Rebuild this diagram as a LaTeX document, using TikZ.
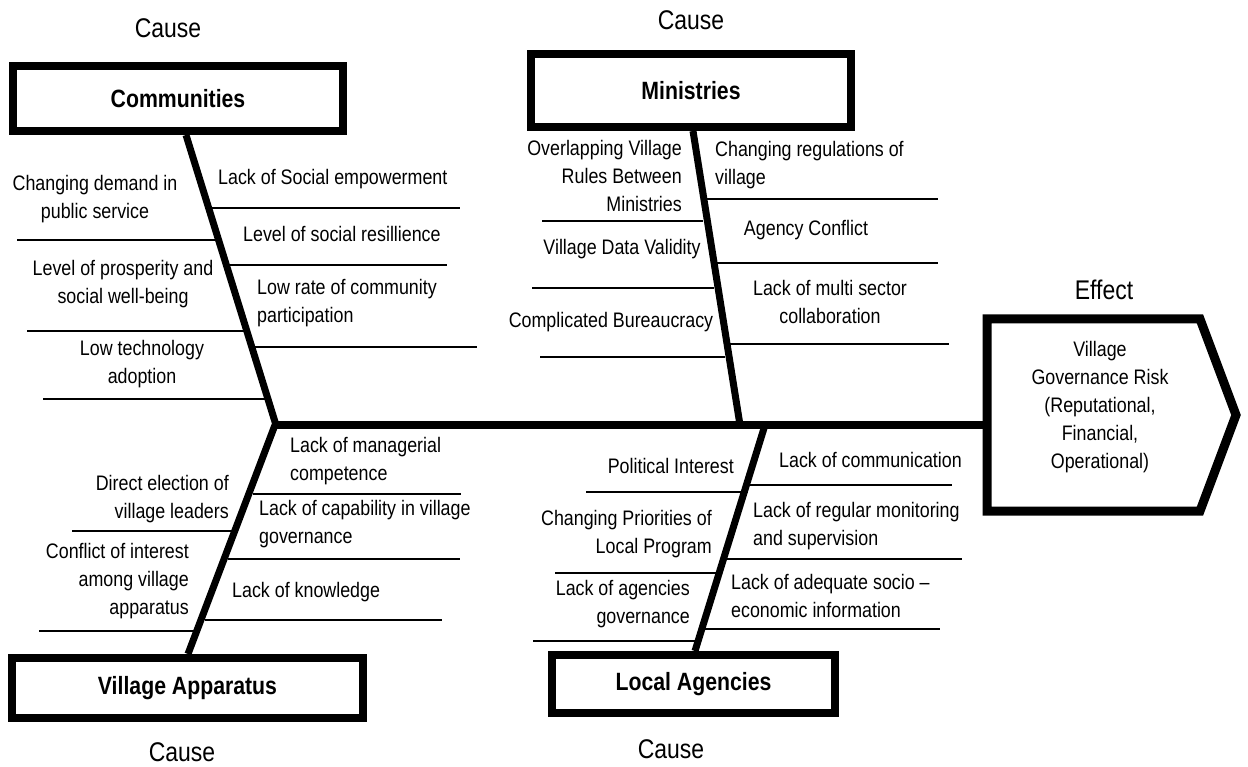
\documentclass[tikz,border=0pt]{standalone}
\usepackage{fontspec}
\setmainfont{Liberation Sans}[FakeStretch=0.85]
\usetikzlibrary{calc}
\begin{document}
\begin{tikzpicture}[x=1pt,y=-1pt,
  lbl/.style={font=\fontsize{21}{28}\selectfont, inner sep=0pt},
  cause/.style={font=\fontsize{27}{32}\selectfont, inner sep=0pt},
  catbox/.style={draw, line width=8pt, rectangle, inner sep=0pt, font=\bfseries\fontsize{25}{30}\selectfont},
  spine/.style={line width=7pt},
  rib/.style={line width=2pt}]
\useasboundingbox (0,0) rectangle (1248,767);

% category boxes
\node[catbox, minimum width=330pt, minimum height=65pt] (comm) at (178,98.5) {Communities};
\node[catbox, minimum width=320pt, minimum height=73pt] (min) at (691,90.5) {Ministries};
\node[catbox, minimum width=351pt, minimum height=60pt] (vapp) at (187.5,688) {Village Apparatus};
\node[catbox, minimum width=283pt, minimum height=58pt] (lag) at (693.5,684) {Local Agencies};

% cause labels
\node[cause] (c1) at (168,28) {Cause};
\node[cause] (c2) at (691,20) {Cause};
\node[cause] (c3) at (182,752) {Cause};
\node[cause] (c4) at (671,749) {Cause};

% effect box
\coordinate (e1) at (987,319);
\coordinate (e2) at (1200,319);
\coordinate (e3) at (1236,415);
\coordinate (e4) at (1200,511);
\coordinate (e5) at (987,511);
\draw[line width=9pt, line join=miter] (e1) -- (e2) -- (e3) -- (e4) -- (e5) -- cycle;
\node[lbl, align=center] (eff) at (1100,407) {Village\\Governance Risk\\(Reputational,\\Financial,\\Operational)};
\node[cause] (efflbl) at (1104,290) {Effect};

% spines
\coordinate (jc) at (276,425);
\coordinate (jm) at (740,425);
\coordinate (jv) at (275,425);
\coordinate (jl) at (765,425);
\coordinate (effin) at (983,425);
\draw[line width=8pt] (272,425) -- (effin);
\draw[spine] ($(comm.south)+(8,0)$) -- (jc);
\draw[spine] ($(min.south)+(2,0)$) -- (jm);
\draw[spine] (jv) -- ($(vapp.north)+(0.5,0)$);
\draw[spine] (jl) -- ($(lag.north)+(1.5,0)$);

% ribs: communities
\draw[rib] (212,208) -- (460,208);
\draw[rib] (228,265) -- (447,265);
\draw[rib] (253,347) -- (477,347);
\draw[rib] (17,240) -- (215,240);
\draw[rib] (27,331) -- (245,331);
\draw[rib] (43,399) -- (267,399);
% ribs: ministries
\draw[rib] (705,199) -- (938,199);
\draw[rib] (715,263) -- (938,263);
\draw[rib] (728,344) -- (949,344);
\draw[rib] (542,221) -- (703,221);
\draw[rib] (532,288) -- (714,288);
\draw[rib] (540,357) -- (725,357);
% ribs: village apparatus
\draw[rib] (253,494) -- (461,494);
\draw[rib] (228,559) -- (460,559);
\draw[rib] (205,620) -- (442,620);
\draw[rib] (72,531) -- (233,531);
\draw[rib] (39,631) -- (195,631);
% ribs: local agencies
\draw[rib] (748,485) -- (952,485);
\draw[rib] (727,559) -- (962,559);
\draw[rib] (705,629) -- (940,629);
\draw[rib] (586,492) -- (748,492);
\draw[rib] (555,573) -- (717,573);
\draw[rib] (533,641) -- (695,641);

% texts: communities
\node[lbl, anchor=west] (t1) at (218,179) {Lack of Social empowerment};
\node[lbl, anchor=west] (t2) at (243,234) {Level of social resillience};
\node[lbl, anchor=west, align=left] (t3) at (257,303) {Low rate of community\\participation};
\node[lbl, align=center] (t4) at (95,199) {Changing demand in\\public service};
\node[lbl, align=center] (t5) at (123,284) {Level of prosperity and\\social well-being};
\node[lbl, align=center] (t6) at (142,364) {Low technology\\adoption};

% texts: ministries
\node[lbl, anchor=east, align=right] (m1) at (682,176) {Overlapping Village\\Rules Between\\Ministries};
\node[lbl] (m2) at (622,249) {Village Data Validity};
\node[lbl] (m3) at (611,322) {Complicated Bureaucracy};
\node[lbl, anchor=west, align=left] (m4) at (715,165) {Changing regulations of\\village};
\node[lbl] (m5) at (806,230) {Agency Conflict};
\node[lbl, align=center] (m6) at (830,302) {Lack of multi sector\\collaboration};

% texts: village apparatus
\node[lbl, anchor=west, align=left] (v1) at (290,461) {Lack of managerial\\competence};
\node[lbl, anchor=west, align=left] (v2) at (259,524) {Lack of capability in village\\governance};
\node[lbl, anchor=west] (v3) at (232,592) {Lack of knowledge};
\node[lbl, anchor=east, align=right] (v4) at (229,499) {Direct election of\\village leaders};
\node[lbl, anchor=east, align=right] (v5) at (189,581) {Conflict of interest\\among village\\apparatus};

% texts: local agencies
\node[lbl, anchor=east] (l1) at (734,466) {Political Interest};
\node[lbl, anchor=east, align=right] (l2) at (712,534) {Changing Priorities of\\Local Program};
\node[lbl, anchor=east, align=right] (l3) at (690,604) {Lack of agencies\\governance};
\node[lbl, anchor=west] (l4) at (779,460) {Lack of communication};
\node[lbl, anchor=west, align=left] (l5) at (753,526) {Lack of regular monitoring\\and supervision};
\node[lbl, anchor=west, align=left] (l6) at (731,596) {Lack of adequate socio –\\economic information};
\end{tikzpicture}
\end{document}
